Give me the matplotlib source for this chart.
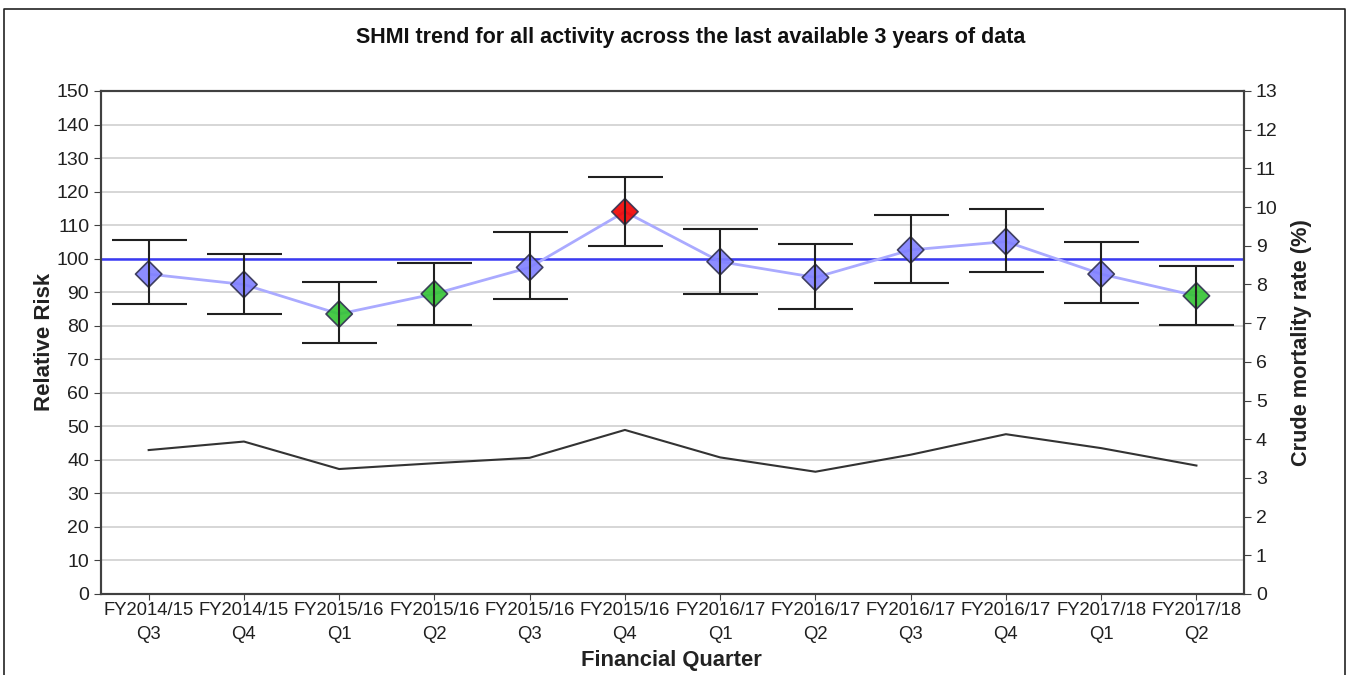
"""SHMI trend chart: relative risk with control limits and crude mortality."""

import matplotlib

matplotlib.use("Agg")
import matplotlib.pyplot as plt
from matplotlib.lines import Line2D

plt.rcParams["font.family"] = ["Liberation Sans", "DejaVu Sans"]

QUARTERS = [
    "FY2014/15\nQ3", "FY2014/15\nQ4", "FY2015/16\nQ1", "FY2015/16\nQ2",
    "FY2015/16\nQ3", "FY2015/16\nQ4", "FY2016/17\nQ1", "FY2016/17\nQ2",
    "FY2016/17\nQ3", "FY2016/17\nQ4", "FY2017/18\nQ1", "FY2017/18\nQ2",
]
relative_risk = [95.4, 92.3, 83.5, 89.5, 97.4, 114.0, 99.1, 94.4, 102.6, 105.1, 95.4, 88.9]
upper_limit = [105.5, 101.4, 92.9, 98.8, 108.0, 124.5, 108.9, 104.4, 112.9, 114.9, 105.0, 97.8]
lower_limit = [86.4, 83.5, 74.9, 80.3, 87.9, 103.9, 89.4, 84.9, 92.8, 95.9, 86.9, 80.3]
status = ["within", "within", "below", "below", "within", "above",
          "within", "within", "within", "within", "within", "below"]
crude_mortality = [3.72, 3.94, 3.23, 3.38, 3.52, 4.24, 3.53, 3.16, 3.60, 4.13, 3.77, 3.32]
NATIONAL = 100

STATUS_COLORS = {"within": "#8080FF", "below": "#33C433", "above": "#F00000"}
AXIS_GREY = "#404040"

fig = plt.figure(figsize=(13.49, 6.75), dpi=100)
ax = fig.add_axes([0.0749, 0.12, 0.8473, 0.7452])
x = list(range(len(QUARTERS)))

ax.set_xlim(-0.5, len(QUARTERS) - 0.5)
ax.set_ylim(0, 150)
ax.set_yticks(range(0, 151, 10))
ax.yaxis.grid(True, color="#D0D0D0", linewidth=1.2)
ax.set_axisbelow(True)

ax.axhline(NATIONAL, color="#3A3AF5", linewidth=1.8, zorder=2)
ax.plot(x, relative_risk, color="#AAAAFF", linewidth=2, zorder=3)
ax.errorbar(x, relative_risk,
            yerr=[[r - lo for r, lo in zip(relative_risk, lower_limit)],
                  [hi - r for r, hi in zip(relative_risk, upper_limit)]],
            fmt="none", ecolor="#202020", elinewidth=1.5, capsize=27,
            capthick=1.5, zorder=5)
ax.scatter(x, relative_risk, marker="D", s=180,
           c=[STATUS_COLORS[s] for s in status],
           edgecolors="#303050", linewidths=1.2, alpha=0.9, zorder=4)

ax.set_xticks(x)
ax.set_xticklabels(QUARTERS, fontsize=13.3, color="#202020", linespacing=1.5)
ax.tick_params(axis="y", labelsize=14, length=5, color=AXIS_GREY, labelcolor="#202020")
ax.tick_params(axis="x", length=4, color=AXIS_GREY, pad=2)
for spine in ax.spines.values():
    spine.set_color(AXIS_GREY)
    spine.set_linewidth(1.5)

ax2 = ax.twinx()
ax2.plot(x, crude_mortality, color="#333333", linewidth=1.5, zorder=3)
ax2.set_ylim(0, 13)
ax2.set_yticks(range(0, 14))
ax2.tick_params(axis="y", labelsize=14, length=5, color=AXIS_GREY, labelcolor="#202020")
for spine in ax2.spines.values():
    spine.set_color(AXIS_GREY)
    spine.set_linewidth(1.5)

fig.text(0.512, 0.944, "SHMI trend for all activity across the last available 3 years of data",
         ha="center", va="center", fontsize=15.5, fontweight="bold", color="#111111")
fig.text(0.033, 0.493, "Relative Risk", rotation=90, ha="center", va="center",
         fontsize=16, fontweight="bold", color="#222222")
fig.text(0.965, 0.492, "Crude mortality rate (%)", rotation=90, ha="center", va="center",
         fontsize=15.7, fontweight="bold", color="#222222")
fig.text(0.498, 0.021, "Financial Quarter", ha="center", va="center",
         fontsize=15.8, fontweight="bold", color="#222222")

# outer frame of the original picture (bottom edge falls outside the crop)
frame_x = [0.003, 0.003, 0.997, 0.997]
frame_y = [-0.01, 0.987, 0.987, -0.01]
fig.add_artist(Line2D(frame_x, frame_y, color="#222222", linewidth=1.2))

fig.savefig("out.png", dpi=100)
